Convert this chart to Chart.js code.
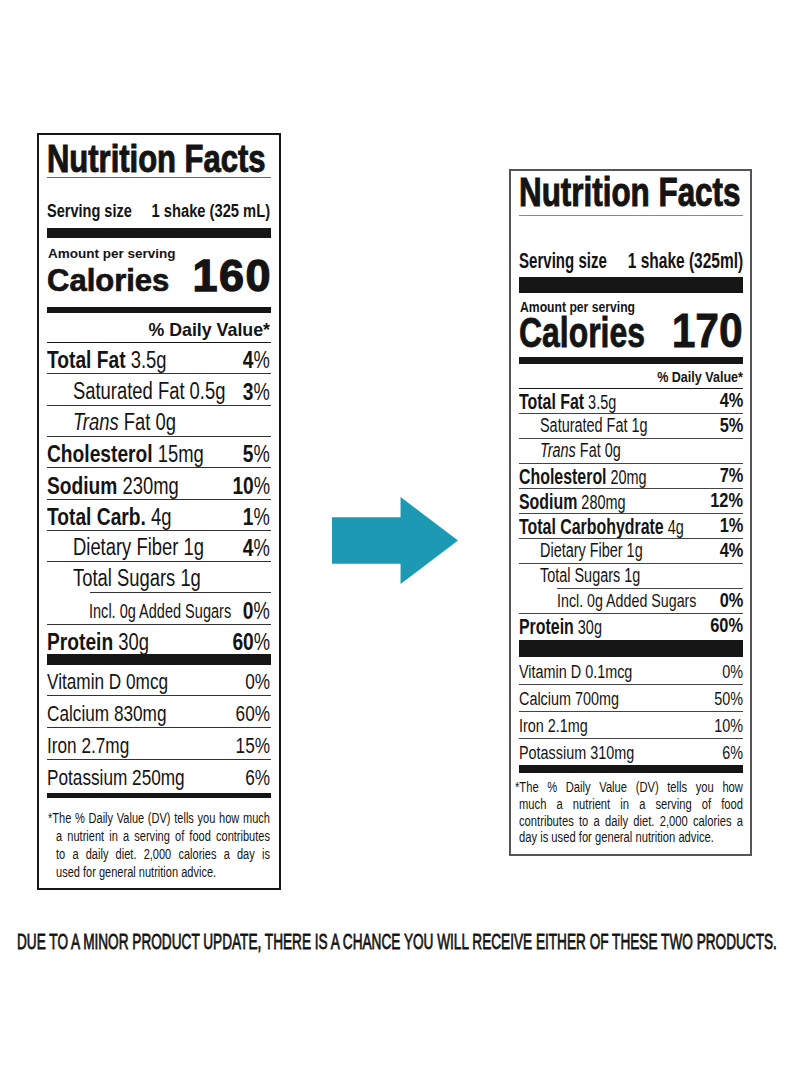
<!DOCTYPE html>
<html><head><meta charset="utf-8">
<script src="https://cdn.jsdelivr.net/npm/chart.js@4.4.0/dist/chart.umd.min.js"></script>
<style>
html,body{margin:0;padding:0;background:#fff;}
body{width:800px;height:1091px;position:relative;overflow:hidden;color:#141414;font-family:"Liberation Sans",Arial,sans-serif;}
.t{position:absolute;white-space:nowrap;line-height:1.117;}
.r{position:absolute;}
.j{position:absolute;display:flex;justify-content:space-between;white-space:nowrap;line-height:1.117;transform-origin:left center;}
#arrow{position:absolute;left:332px;top:497px;}
</style></head><body>
<canvas id="arrow" width="126" height="87"></canvas>
<script>
// ---------- data ----------
const beforeNames   = ['Total Fat','Saturated Fat','Trans Fat','Cholesterol','Sodium','Total Carb.','Dietary Fiber','Total Sugars','Added Sugars','Protein'];
const beforeAmounts = ['3.5g','0.5g','0g','15mg','230mg','4g','1g','1g','0g','30g'];
const beforeDV      = [4,3,null,5,10,1,4,null,0,60];
const afterNames    = ['Total Fat','Saturated Fat','Trans Fat','Cholesterol','Sodium','Total Carbohydrate','Dietary Fiber','Total Sugars','Added Sugars','Protein'];
const afterAmounts  = ['3.5g','1g','0g','20mg','280mg','4g','1g','1g','0g','30g'];
const afterDV       = [4,5,null,7,12,1,4,null,0,60];
const vitaminNames  = ['Vitamin D','Calcium','Iron','Potassium'];
const beforeVitAmounts = ['0mcg','830mg','2.7mg','250mg'];
const beforeVitDV      = [0,60,15,6];
const afterVitAmounts  = ['0.1mcg','700mg','2.1mg','310mg'];
const afterVitDV       = [0,50,10,6];
const beforeCalories = 160;
const afterCalories  = 170;
const beforeServing = '1 shake (325 mL)';
const afterServing  = '1 shake (325ml)';
const beforeFootnote = ['*The % Daily Value (DV) tells you how much','a nutrient in a serving of food contributes','to a daily diet. 2,000 calories a day is','used for general nutrition advice.'];
const afterFootnote  = ['*The % Daily Value (DV) tells you how','much a nutrient in a serving of food','contributes to a daily diet. 2,000 calories a','day is used for general nutrition advice.'];
const notice = 'DUE TO A MINOR PRODUCT UPDATE, THERE IS A CHANCE YOU WILL RECEIVE EITHER OF THESE TWO PRODUCTS.';
// row hierarchy (layout, not data)
const rowLevel = [0,1,1,0,0,0,1,1,2,0];

// ---------- helpers ----------
function T(x, base, html, o){
  const d=document.createElement('div');
  d.className='t';
  const s=o.size;
  const lh=o.lh||1.117;
  d.style.fontSize=s+'px';
  d.style.lineHeight=lh;
  d.style.top=(base-(0.905*s+(lh-1.117)*s/2))+'px';
  if(o.align==='r'){d.style.right=(800-x)+'px';d.style.textAlign='right';}
  else d.style.left=x+'px';
  if(o.w) d.style.fontWeight=o.w;
  if(o.stroke) d.style.webkitTextStroke=o.stroke+'px #141414';
  if(o.ls) d.style.letterSpacing=o.ls+'px';
  if(o.sx){d.style.transform='scaleX('+o.sx+')';d.style.transformOrigin=(o.align==='r'?'right':'left')+' center';}
  d.innerHTML=html;
  document.body.appendChild(d);
  return d;
}
function R(x1,y1,x2,y2,c){
  const d=document.createElement('div');
  d.className='r';
  d.style.left=x1+'px';d.style.top=y1+'px';
  d.style.width=(x2-x1)+'px';d.style.height=(y2-y1)+'px';
  d.style.background=c||'#161616';
  document.body.appendChild(d);
}
function Box(x1,y1,x2,y2,bw,c){
  const d=document.createElement('div');
  d.style.position='absolute';d.style.boxSizing='border-box';
  d.style.left=x1+'px';d.style.top=y1+'px';
  d.style.width=(x2-x1)+'px';d.style.height=(y2-y1)+'px';
  d.style.border=bw+'px solid '+c;
  document.body.appendChild(d);
}
function J(x1,x2,base,text,size,sx,justify){
  if(!justify) return T(x1,base,text,{size,sx});
  const d=document.createElement('div');
  d.className='j';
  d.style.left=x1+'px';d.style.width=((x2-x1)/sx)+'px';
  d.style.transform='scaleX('+sx+')';
  d.style.fontSize=size+'px';
  d.style.top=(base-0.905*size)+'px';
  text.split(' ').forEach(w=>{const s=document.createElement('span');s.textContent=w;d.appendChild(s);});
  document.body.appendChild(d);
}
function label(name, amt, level, boldSize){
  if(name==='Added Sugars') return 'Incl. '+amt+' Added Sugars';
  if(name==='Trans Fat') return '<i>Trans</i> Fat '+amt;
  if(level===0) return '<b style="font-size:'+boldSize+'px">'+name+'</b> '+amt;
  return name+' '+amt;
}

// ---------- left label (before) ----------
Box(37,133,281,890,2,'#161616');
T(47,172,'Nutrition Facts',{size:38,w:700,stroke:1,sx:0.815});
R(47,177,271,178,'#666');
T(47,218,'Serving size',{size:17.5,w:700,sx:0.83});
T(270,218,beforeServing,{size:17.5,w:700,sx:0.84,align:'r'});
R(47,228,271,238);
T(48,258,'Amount per serving',{size:13.5,w:700});
T(47,292,'Calories',{size:31,w:700,stroke:0.7,lh:0.8});
T(272,292,String(beforeCalories),{size:45,w:700,stroke:1.3,ls:1.5,align:'r',lh:0.8});
R(47,307,271,313);
T(270,337,'% Daily Value*',{size:17.8,w:700,align:'r'});
R(47,342,271,343);
beforeNames.forEach((nm,i)=>{
  const lv=rowLevel[i];
  const lineY=Math.round(342+31.3*(i+1));
  const base=lineY-5.5;
  const x=[47,73,89][lv];
  T(x,base,label(nm,beforeAmounts[i],lv,24),lv===2?{size:19.5,sx:0.745}:{size:23,sx:0.8});
  if(beforeDV[i]!==null) T(270,base,'<b style="font-size:24px">'+beforeDV[i]+'</b>%',{size:23,sx:0.8,align:'r'});
  if(i<beforeNames.length-1) R(i===7?90:47,lineY,271,lineY+1,'#333');
});
R(47,654,271,665);
vitaminNames.forEach((nm,i)=>{
  const lineY=663+32*(i+1);
  const base=lineY-6;
  T(47,base,nm+' '+beforeVitAmounts[i],{size:21.5,sx:0.8});
  T(270,base,beforeVitDV[i]+'%',{size:21.5,sx:0.8,align:'r'});
  if(i<vitaminNames.length-1) R(47,lineY,271,lineY+1,'#333');
});
R(47,793,271,798);
beforeFootnote.forEach((ln,i)=>{
  J(i===0?48:56,270,823+18*i,ln,13.8,0.8,i<3);
});

// ---------- right label (after) ----------
Box(509,169,752,856,2,'#555');
T(519,207,'Nutrition Facts',{size:40.5,w:700,stroke:1,sx:0.775});
R(519,215,743,216,'#888');
T(519,268,'Serving size',{size:21.5,w:700,sx:0.70});
T(743,268,afterServing,{size:21.5,w:700,sx:0.72,align:'r'});
R(519,277,743,293);
T(520,312,'Amount per serving',{size:14.5,w:700,sx:0.84});
T(519,347,'Calories',{size:42,w:700,stroke:0.8,sx:0.76,lh:0.75});
T(743,347,String(afterCalories),{size:49,w:700,stroke:0.8,sx:0.87,align:'r',lh:0.75});
R(519,357,743,364);
T(743,382,'% Daily Value*',{size:15.5,w:700,sx:0.81,align:'r'});
R(519,388,743,389);
afterNames.forEach((nm,i)=>{
  const lv=rowLevel[i];
  const lineY=388+25*(i+1);
  const base=lineY-5.5;
  const x=[519,540,557][lv];
  T(x,base,label(nm,afterAmounts[i],lv,21.5),lv===2?{size:19,sx:0.75}:{size:19.5,sx:0.74});
  if(afterDV[i]!==null) T(743,base,'<b>'+afterDV[i]+'%</b>',{size:21,sx:0.78,align:'r'});
  if(i<afterNames.length-1) R(i===7?557:519,lineY,743,lineY+1,'#444');
});
R(519,640,743,657);
vitaminNames.forEach((nm,i)=>{
  const lineY=657+27*(i+1);
  const base=lineY-6;
  T(519,base,nm+' '+afterVitAmounts[i],{size:18,sx:0.8});
  T(743,base,afterVitDV[i]+'%',{size:18,sx:0.8,align:'r'});
  if(i<vitaminNames.length-1) R(519,lineY,743,lineY+1,'#444');
});
R(519,765,743,773);
afterFootnote.forEach((ln,i)=>{
  J(i===0?515:519,743,793+16.7*i,ln,14,0.8,i<3);
});

// ---------- notice ----------
const nt=T(17,949,notice,{size:22.5,stroke:0.8});
nt.style.transformOrigin='left center';
nt.style.transform='scaleX('+(760/nt.offsetWidth)+')';

// ---------- arrow (Chart.js) ----------
const arrowOutline=[[0,0.233],[0.544,0.233],[0.544,0],[1,0.5],[0.544,1],[0.544,0.767],[0,0.767]];
new Chart(document.getElementById('arrow'),{
  type:'scatter',
  data:{datasets:[{data:arrowOutline.map(([x,y])=>({x,y})),pointRadius:0,showLine:false,backgroundColor:'#1c9ab4'}]},
  options:{
    responsive:false,animation:false,devicePixelRatio:1,
    layout:{padding:0},
    plugins:{legend:{display:false},tooltip:{enabled:false}},
    scales:{x:{type:'linear',min:0,max:1,display:false},y:{type:'linear',min:0,max:1,reverse:true,display:false}}
  },
  plugins:[{id:'arrowFill',afterDatasetsDraw(chart){
    const ctx=chart.ctx, pts=chart.getDatasetMeta(0).data;
    ctx.save();ctx.beginPath();
    pts.forEach((p,i)=>i?ctx.lineTo(p.x,p.y):ctx.moveTo(p.x,p.y));
    ctx.closePath();ctx.fillStyle='#1c9ab4';ctx.fill();ctx.restore();
  }}]
});
</script>
</body></html>
